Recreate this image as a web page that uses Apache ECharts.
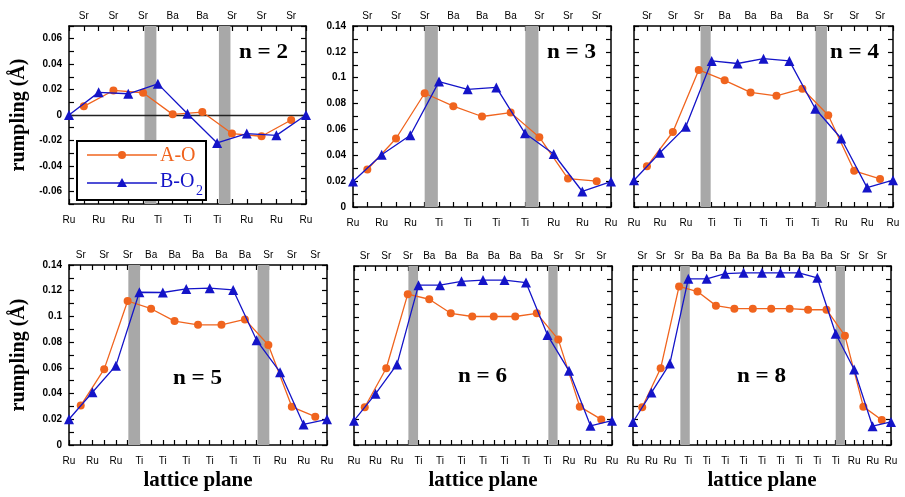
<!DOCTYPE html>
<html><head><meta charset="utf-8">
<script src="https://cdn.jsdelivr.net/npm/echarts/dist/echarts.min.js"></script>
<style>html,body{margin:0;padding:0;background:#fff}#c{width:905px;height:497px}</style>
</head><body><div id="c"></div>
<script>
// ---------- data ----------
const n2_top = ['Sr','Sr','Sr','Ba','Ba','Sr','Sr','Sr'];
const n2_bottom = ['Ru','Ru','Ru','Ti','Ti','Ti','Ru','Ru','Ru'];
const n2_AO = [0.0068, 0.0193, 0.0175, 0.0005, 0.0023, -0.0146, -0.0167, -0.0039];
const n2_BO = [0, 0.0178, 0.0167, 0.0245, 0.001, -0.022, -0.0146, -0.016, 0];
const n2_bands = [[2.55, 2.95], [5.06, 5.45]];

const n3_top = ['Sr','Sr','Sr','Ba','Ba','Ba','Sr','Sr','Sr'];
const n3_bottom = ['Ru','Ru','Ru','Ti','Ti','Ti','Ti','Ru','Ru','Ru'];
const n3_AO = [0.029, 0.053, 0.088, 0.078, 0.070, 0.073, 0.054, 0.022, 0.020];
const n3_BO = [0.0197, 0.0404, 0.0555, 0.097, 0.091, 0.0925, 0.057, 0.041, 0.012, 0.0197];
const n3_bands = [[2.5, 2.96], [6.01, 6.47]];

const n4_top = ['Sr','Sr','Sr','Ba','Ba','Ba','Ba','Sr','Sr','Sr'];
const n4_bottom = ['Ru','Ru','Ru','Ti','Ti','Ti','Ti','Ti','Ru','Ru','Ru'];
const n4_AO = [0.0315, 0.058, 0.106, 0.098, 0.0886, 0.086, 0.0915, 0.071, 0.028, 0.0217];
const n4_BO = [0.0207, 0.042, 0.062, 0.113, 0.111, 0.1147, 0.113, 0.076, 0.053, 0.015, 0.0207];
const n4_bands = [[2.57, 2.96], [7.01, 7.45]];

const n5_top = ['Sr','Sr','Sr','Ba','Ba','Ba','Ba','Ba','Sr','Sr','Sr'];
const n5_bottom = ['Ru','Ru','Ru','Ti','Ti','Ti','Ti','Ti','Ti','Ru','Ru','Ru'];
const n5_AO = [0.0307, 0.059, 0.112, 0.106, 0.0964, 0.0935, 0.0935, 0.0977, 0.0778, 0.0297, 0.022];
const n5_BO = [0.02, 0.041, 0.0617, 0.1188, 0.1186, 0.1214, 0.122, 0.1206, 0.0814, 0.0566, 0.016, 0.02];
const n5_bands = [[2.53, 3.03], [8.04, 8.54]];

const n6_top = ['Sr','Sr','Sr','Ba','Ba','Ba','Ba','Ba','Ba','Sr','Sr','Sr'];
const n6_bottom = ['Ru','Ru','Ru','Ti','Ti','Ti','Ti','Ti','Ti','Ti','Ru','Ru','Ru'];
const n6_AO = [0.0295, 0.060, 0.118, 0.114, 0.103, 0.1005, 0.1005, 0.1005, 0.103, 0.0826, 0.030, 0.020];
const n6_BO = [0.019, 0.040, 0.063, 0.125, 0.125, 0.128, 0.129, 0.129, 0.127, 0.086, 0.058, 0.015, 0.019];
const n6_bands = [[2.53, 2.98], [9.04, 9.47]];

const n8_top = ['Sr','Sr','Sr','Ba','Ba','Ba','Ba','Ba','Ba','Ba','Ba','Sr','Sr','Sr'];
const n8_bottom = ['Ru','Ru','Ru','Ti','Ti','Ti','Ti','Ti','Ti','Ti','Ti','Ti','Ru','Ru','Ru'];
const n8_AO = [0.0295, 0.060, 0.124, 0.120, 0.109, 0.1066, 0.1066, 0.1066, 0.1066, 0.1058, 0.1058, 0.0855, 0.030, 0.0195];
const n8_BO = [0.018, 0.041, 0.0637, 0.130, 0.130, 0.134, 0.1347, 0.1347, 0.1347, 0.1347, 0.1308, 0.087, 0.059, 0.0147, 0.018];
const n8_bands = [[2.57, 3.08], [11.0, 11.5]];

const yRangeTop = [-0.07, 0.07];
const yRange = [0, 0.14];
const panelLabels = ['n = 2', 'n = 3', 'n = 4', 'n = 5', 'n = 6', 'n = 8'];
const seriesNames = ['A-O', 'B-O2'];

// ---------- layout / style ----------
const panels = [
  {top: n2_top, bottom: n2_bottom, AO: n2_AO, BO: n2_BO, bands: n2_bands, y: yRangeTop, ylab: true, yname: true, xname: false, zero: true},
  {top: n3_top, bottom: n3_bottom, AO: n3_AO, BO: n3_BO, bands: n3_bands, y: yRange, ylab: true, yname: false, xname: false},
  {top: n4_top, bottom: n4_bottom, AO: n4_AO, BO: n4_BO, bands: n4_bands, y: yRange, ylab: false, yname: false, xname: false},
  {top: n5_top, bottom: n5_bottom, AO: n5_AO, BO: n5_BO, bands: n5_bands, y: yRange, ylab: true, yname: true, xname: true},
  {top: n6_top, bottom: n6_bottom, AO: n6_AO, BO: n6_BO, bands: n6_bands, y: yRange, ylab: false, yname: false, xname: true},
  {top: n8_top, bottom: n8_bottom, AO: n8_AO, BO: n8_BO, bands: n8_bands, y: yRange, ylab: false, yname: false, xname: true}
];
const boxes = [
  {left: 69, top: 26, width: 237, height: 178},
  {left: 353, top: 26, width: 258, height: 181},
  {left: 634, top: 26, width: 259, height: 181},
  {left: 69, top: 265, width: 258, height: 180},
  {left: 354, top: 266, width: 258, height: 179},
  {left: 633, top: 266, width: 258, height: 179}
];
const labelPos = [[239, 42], [547, 42], [830, 42], [173, 368], [458, 366], [737, 366]];

const ORANGE = '#f0641e', BLUE = '#1414c8', GRAY = '#a8a8a8';
const SANS = 'Liberation Sans, Arial, sans-serif';
const SERIF = 'Liberation Serif, Times New Roman, serif';

const isInt = v => Math.abs(v - Math.round(v)) < 1e-6;
const axisLine = {show: true, onZero: false, lineStyle: {color: '#000', width: 1.5}};
const tick = {show: true, inside: true, length: 5, lineStyle: {color: '#000', width: 1.2}};

const grid = [], xAxis = [], yAxis = [], series = [], graphic = [];
panels.forEach((p, i) => {
  const N = p.bottom.length - 1;
  grid.push(Object.assign({show: false}, boxes[i]));
  xAxis.push({
    gridIndex: i, type: 'value', min: 0, max: N, interval: 0.5, position: 'bottom',
    axisLine, axisTick: tick, splitLine: {show: false},
    axisLabel: {color: '#000', fontSize: 10, fontFamily: SANS, margin: 11,
      formatter: v => isInt(v) ? (p.bottom[Math.round(v)] || '') : ''},
    name: p.xname ? 'lattice plane' : '', nameLocation: 'middle', nameGap: 25,
    nameTextStyle: {fontFamily: SERIF, fontWeight: 'bold', fontSize: 21, color: '#000'}
  });
  xAxis.push({
    gridIndex: i, type: 'value', min: 0, max: N, interval: 0.5, position: 'top',
    axisLine, axisTick: tick, splitLine: {show: false},
    axisLabel: {color: '#000', fontSize: 10, fontFamily: SANS, margin: 5,
      formatter: v => (!isInt(v) && isInt(v - 0.5)) ? (p.top[Math.round(v - 0.5)] || '') : ''}
  });
  const yfmt = v => {
    const k = Math.round(v * 100);
    if (k % 2 !== 0) return '';
    if (k === 0) return '0';
    return String(k / 100);
  };
  yAxis.push({
    gridIndex: i, type: 'value', min: p.y[0], max: p.y[1], interval: 0.01, position: 'left',
    axisLine, axisTick: tick, splitLine: {show: false},
    axisLabel: {show: p.ylab, color: '#000', fontSize: 10, fontWeight: 'bold', fontFamily: SANS, margin: 7, formatter: yfmt},
    name: p.yname ? 'rumpling (Å)' : '', nameLocation: 'middle', nameGap: 40, nameRotate: 90,
    nameTextStyle: {fontFamily: SERIF, fontWeight: 'bold', fontSize: 20, color: '#000'}
  });
  yAxis.push({
    gridIndex: i, type: 'value', min: p.y[0], max: p.y[1], interval: 0.01, position: 'right',
    axisLine, axisTick: tick, splitLine: {show: false}, axisLabel: {show: false}
  });
  const ao = {
    name: seriesNames[0], type: 'line', xAxisIndex: 2 * i, yAxisIndex: 2 * i, z: 3,
    data: p.AO.map((v, k) => [k + 0.5, v]),
    symbol: 'circle', symbolSize: 8, showAllSymbol: true,
    itemStyle: {color: ORANGE}, lineStyle: {color: ORANGE, width: 1.3},
    markArea: {silent: true, z: 1, itemStyle: {color: GRAY, opacity: 1},
      data: p.bands.map(b => [{xAxis: b[0]}, {xAxis: b[1]}])}
  };
  if (p.zero) {
    ao.markLine = {silent: true, z: 2, symbol: 'none', label: {show: false},
      lineStyle: {color: '#222', width: 1.3, type: 'solid'}, data: [{yAxis: 0}]};
  }
  series.push(ao);
  series.push({
    name: seriesNames[1], type: 'line', xAxisIndex: 2 * i, yAxisIndex: 2 * i, z: 4,
    data: p.BO.map((v, k) => [k, v]),
    symbol: 'triangle', symbolSize: 10, showAllSymbol: true,
    itemStyle: {color: BLUE}, lineStyle: {color: BLUE, width: 1.3}
  });
  graphic.push({type: 'text', x: labelPos[i][0], y: labelPos[i][1], scaleX: 1.1, scaleY: 1, z: 10,
    style: {text: panelLabels[i], font: 'bold 21px ' + SERIF, fill: '#000', verticalAlign: 'top', align: 'left'}});
});

// legend (drawn in panel n = 2)
graphic.push(
  {type: 'rect', shape: {x: 77, y: 141, width: 129, height: 59}, z: 20,
    style: {fill: '#fff', stroke: '#000', lineWidth: 2}},
  {type: 'line', shape: {x1: 87, y1: 155, x2: 157, y2: 155}, z: 21, style: {stroke: ORANGE, lineWidth: 1.3}},
  {type: 'circle', shape: {cx: 122, cy: 155, r: 4}, z: 22, style: {fill: ORANGE}},
  {type: 'text', x: 160, y: 156, z: 21, style: {text: seriesNames[0], font: '20px ' + SERIF, fill: ORANGE, verticalAlign: 'middle'}},
  {type: 'line', shape: {x1: 87, y1: 183, x2: 157, y2: 183}, z: 21, style: {stroke: BLUE, lineWidth: 1.3}},
  {type: 'polygon', shape: {points: [[122, 178], [127, 187], [117, 187]]}, z: 22, style: {fill: BLUE}},
  {type: 'text', x: 160, y: 182, z: 21, style: {text: 'B-O', font: '20px ' + SERIF, fill: BLUE, verticalAlign: 'middle'}},
  {type: 'text', x: 196, y: 191, z: 21, style: {text: '2', font: '14px ' + SERIF, fill: BLUE, verticalAlign: 'middle'}}
);

const chart = echarts.init(document.getElementById('c'), null, {renderer: 'canvas'});
chart.setOption({
  animation: false, backgroundColor: '#fff',
  grid, xAxis, yAxis, series, graphic
});
</script></body></html>
